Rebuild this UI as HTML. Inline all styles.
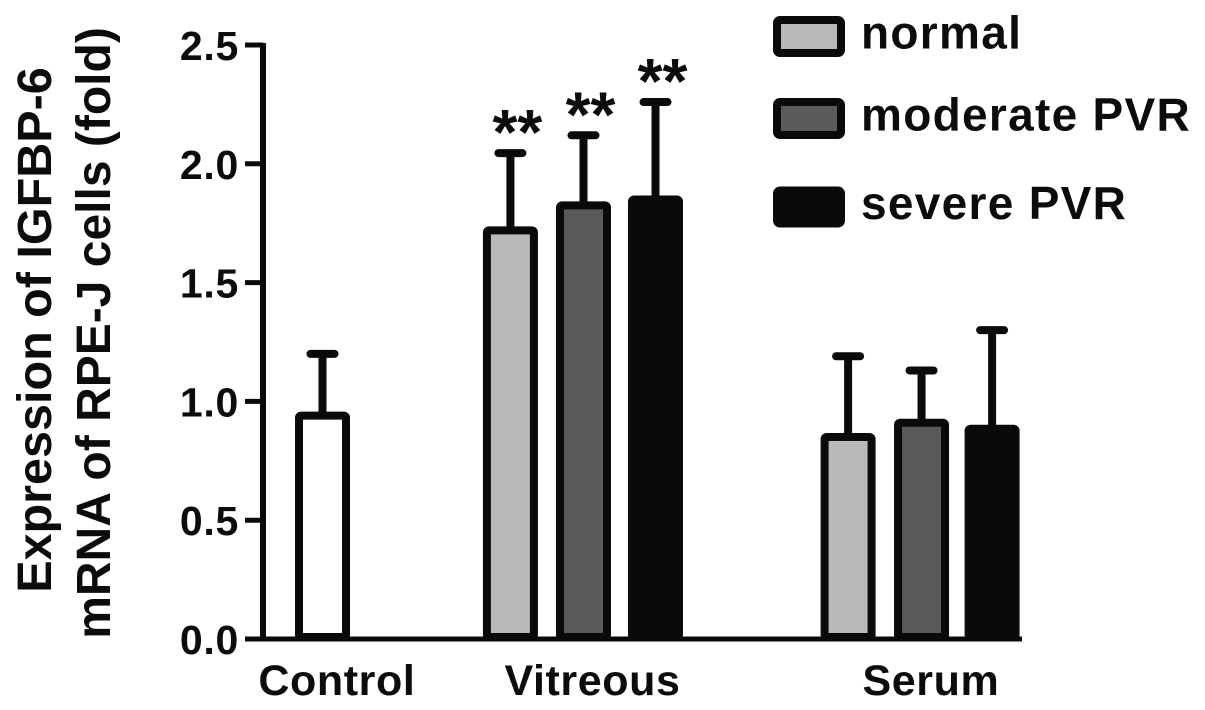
<!DOCTYPE html>
<html>
<head>
<meta charset="utf-8">
<style>
html,body{margin:0;padding:0;background:#fff;}
svg{display:block;}
text{font-family:"Liberation Sans",Arial,sans-serif;font-weight:bold;fill:#0c0c0c;}
</style>
</head>
<body>
<svg id="chart" width="1205" height="710" viewBox="0 0 1205 710" xmlns="http://www.w3.org/2000/svg"></svg>
<script>
const tickValues = [0, 0.5, 1, 1.5, 2, 2.5];
const tickLabels = ["0.0", "0.5", "1.0", "1.5", "2.0", "2.5"];
const barNames = ["control", "vitreous-normal", "vitreous-moderate", "vitreous-severe", "serum-normal", "serum-moderate", "serum-severe"];
const barSlots = [0, 2.61, 3.625, 4.625, 7.3, 8.32, 9.3];
const barValues = [0.94, 1.72, 1.825, 1.85, 0.85, 0.91, 0.885];
const barErrors = [0.26, 0.325, 0.295, 0.41, 0.34, 0.22, 0.415];
const barGroups = ["control", "normal", "moderate", "severe", "normal", "moderate", "severe"];
const starFlags = [false, true, true, true, false, false, false];
const groupLabels = ["Control", "Vitreous", "Serum"];
const groupSlots = [0.2, 3.75, 8.45];
const legendLabels = ["normal", "moderate PVR", "severe PVR"];
const legendKeys = ["normal", "moderate", "severe"];
const legendRows = [0, 1, 2.08];
const fills = {control:"#ffffff", normal:"#b9b9b9", moderate:"#5a5a5a", severe:"#0a0a0a"};
const svg = document.getElementById('chart');
const NS = 'http://www.w3.org/2000/svg';
const y = v => 639 - v * 237.6;
const x = s => 322.5 + s * 72;
function mk(tag, attrs, parent, text){
  const e = document.createElementNS(NS, tag);
  for (const k in attrs) e.setAttribute(k, attrs[k]);
  if (text !== undefined) e.textContent = text;
  parent.appendChild(e);
  return e;
}
const axisGroup = mk('g', {}, svg);


const axisLine = mk('line', {x1:263, x2:263, y1:y(2.5)-2, y2:y(0)+2, stroke:'#0a0a0a', 'stroke-width':6}, axisGroup);


const baseLine = mk('line', {x1:245, x2:1022, y1:y(0), y2:y(0), stroke:'#0a0a0a', 'stroke-width':5}, axisGroup);


tickValues.forEach((v, i) => {
  const t = mk('line', {x1:245, x2:263, y1:y(v), y2:y(v), stroke:'#0a0a0a', 'stroke-width':5}, axisGroup);
  
  
  const l = mk('text', {x:239, y:y(v)+15, 'text-anchor':'end', 'font-size':41, 'letter-spacing':'0.7'}, axisGroup, tickLabels[i]);
  
  
});
barValues.forEach((v, i) => {
  const cx = x(barSlots[i]);
  const g = mk('g', {}, svg);
  
  
  const top = y(v + barErrors[i]);
  const stem = mk('line', {x1:cx, x2:cx, y1:y(v), y2:top, stroke:'#0a0a0a', 'stroke-width':8}, g);
  
  
  const cap = mk('line', {x1:cx-12, x2:cx+12, y1:top, y2:top, stroke:'#0a0a0a', 'stroke-width':8, 'stroke-linecap':'round'}, g);
  
  
  const rect = mk('rect', {x:cx-23.5, y:y(v), width:47, height:y(0)-y(v)-2, rx:2, fill:fills[barGroups[i]], stroke:'#0a0a0a', 'stroke-width':8}, g);
  
  
  if (starFlags[i]) {
    const s = mk('text', {x:cx+7, y:top+1, 'text-anchor':'middle', 'font-size':64}, g, '**');
    
    
  }
});
groupLabels.forEach((label, i) => {
  const t = mk('text', {x:x(groupSlots[i]), y:695, 'text-anchor':'middle', 'font-size':43, 'letter-spacing':'0.6'}, svg, label);
  
  
});
const title1 = mk('text', {transform:'translate(51,330) rotate(-90)', 'text-anchor':'middle', 'font-size':48.5}, svg, 'Expression of IGFBP-6');


const title2 = mk('text', {transform:'translate(110,333) rotate(-90)', 'text-anchor':'middle', 'font-size':48}, svg, 'mRNA of RPE-J cells (fold)');


legendLabels.forEach((label, i) => {
  const ly = 36.5 + legendRows[i] * 82;
  const g = mk('g', {}, svg);
  
  
  const swatch = mk('rect', {x:777, y:ly-16.5, width:64, height:33, rx:3, fill:fills[legendKeys[i]], stroke:'#0a0a0a', 'stroke-width':8}, g);
  
  
  const lt = mk('text', {x:861, y:ly+12, 'font-size':46, 'letter-spacing':'1.3'}, g, label);
  
  
});
</script>
</body>
</html>
